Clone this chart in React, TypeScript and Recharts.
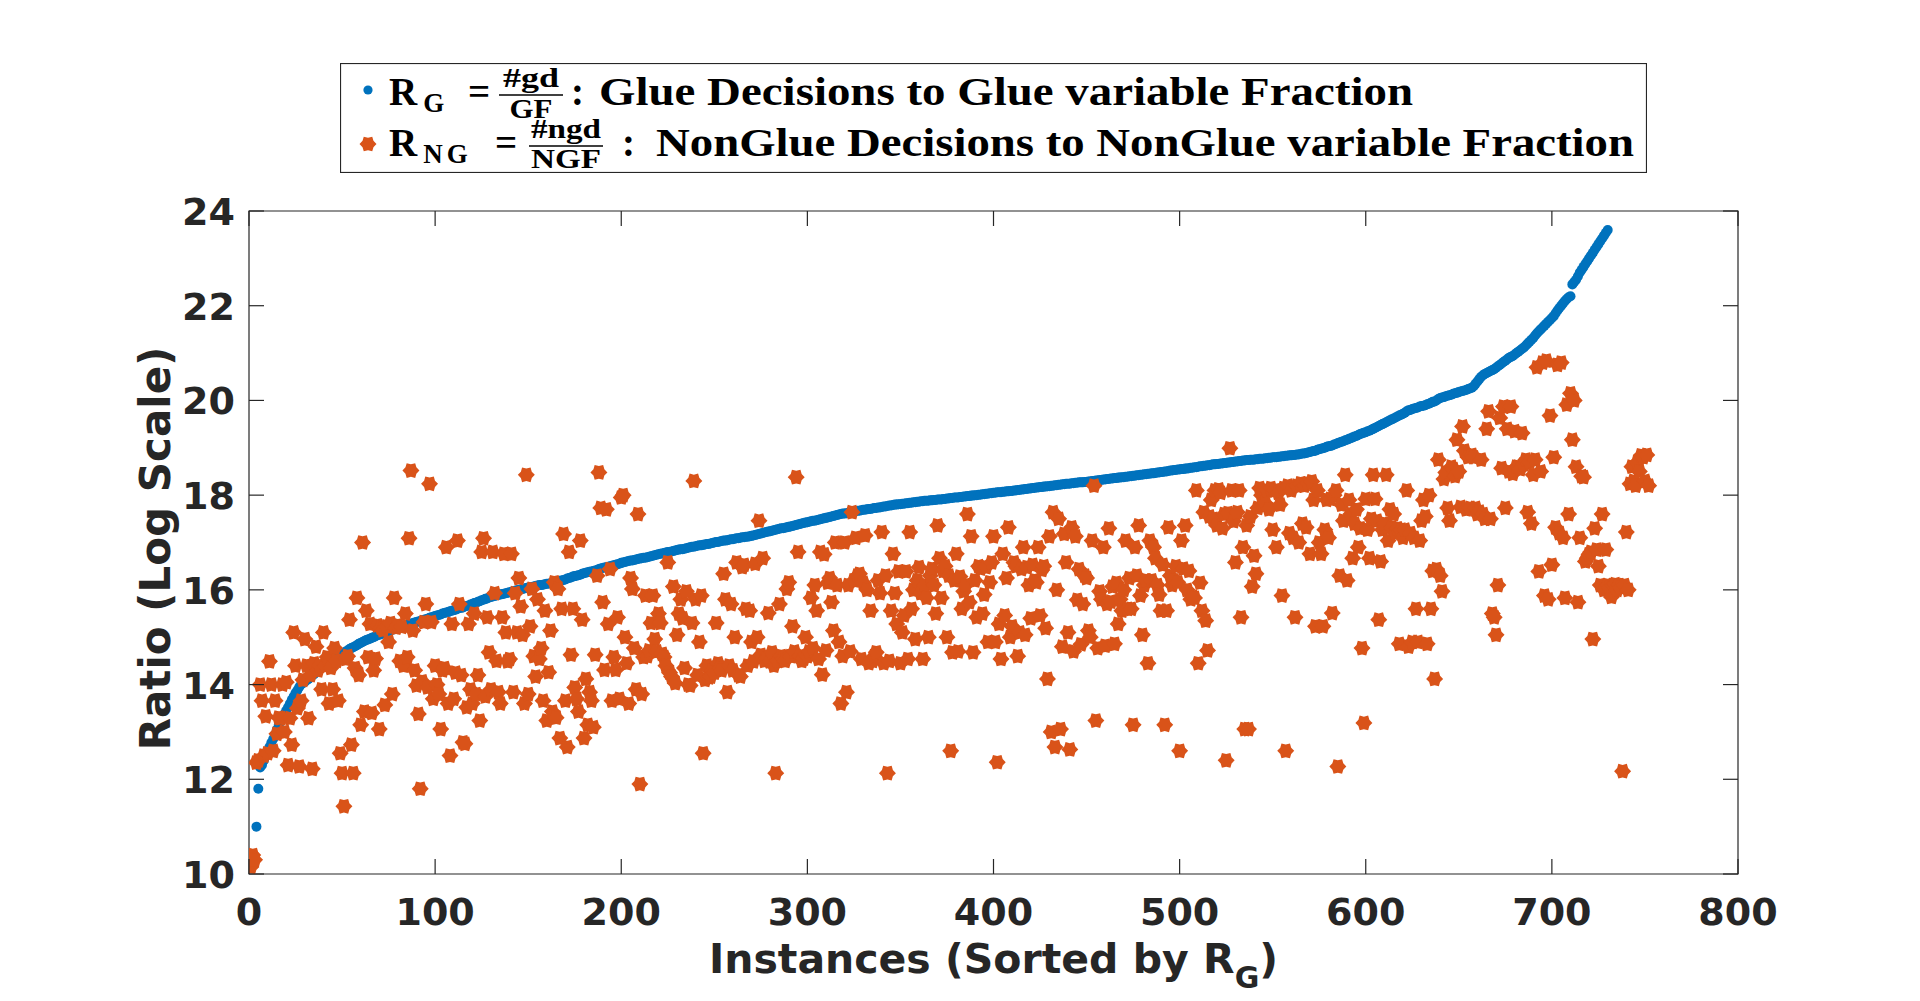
import { ScatterChart, Scatter, XAxis, YAxis, ReferenceArea, Legend } from "recharts"

// Instances sorted by R_G; the glue ratio starts at instance 4 (the first three sit below the axis floor).
const RG_FIRST_INSTANCE = 4
const rgRatio = [
  11.0, 11.8, 12.25, 12.3, 12.4, 12.5, 12.6,
  12.68, 12.77, 12.85, 12.95, 13.05, 13.15, 13.22, 13.3, 13.38, 13.45,
  13.52, 13.6, 13.68, 13.75, 13.82, 13.88, 13.95, 14.0, 14.03, 14.06,
  14.09, 14.12, 14.15, 14.19, 14.22, 14.26, 14.29, 14.33, 14.36, 14.4,
  14.42, 14.45, 14.47, 14.5, 14.52, 14.55, 14.57, 14.6, 14.62, 14.65,
  14.67, 14.7, 14.72, 14.75, 14.77, 14.79, 14.81, 14.83, 14.86, 14.88,
  14.9, 14.92, 14.94, 14.95, 14.97, 14.99, 15.0, 15.02, 15.04, 15.05,
  15.07, 15.08, 15.1, 15.11, 15.13, 15.14, 15.16, 15.17, 15.19, 15.2,
  15.21, 15.22, 15.24, 15.25, 15.26, 15.27, 15.28, 15.3, 15.31, 15.32,
  15.33, 15.34, 15.36, 15.37, 15.38, 15.39, 15.41, 15.42, 15.43, 15.45,
  15.46, 15.47, 15.48, 15.5, 15.51, 15.52, 15.53, 15.55, 15.56, 15.57,
  15.58, 15.6, 15.61, 15.62, 15.63, 15.65, 15.66, 15.67, 15.69, 15.7,
  15.72, 15.73, 15.75, 15.76, 15.78, 15.79, 15.81, 15.82, 15.84, 15.85,
  15.86, 15.87, 15.88, 15.89, 15.9, 15.91, 15.92, 15.93, 15.94, 15.95,
  15.96, 15.97, 15.98, 15.99, 16.0, 16.01, 16.02, 16.03, 16.04, 16.05,
  16.06, 16.06, 16.07, 16.08, 16.09, 16.1, 16.1, 16.11, 16.12, 16.13,
  16.13, 16.14, 16.15, 16.15, 16.16, 16.17, 16.19, 16.2, 16.21, 16.22,
  16.24, 16.25, 16.26, 16.28, 16.29, 16.3, 16.31, 16.32, 16.34, 16.35,
  16.36, 16.37, 16.38, 16.39, 16.4, 16.41, 16.42, 16.44, 16.45, 16.46,
  16.47, 16.48, 16.49, 16.5, 16.51, 16.52, 16.53, 16.54, 16.55, 16.57,
  16.58, 16.59, 16.6, 16.61, 16.62, 16.62, 16.63, 16.64, 16.65, 16.66,
  16.67, 16.68, 16.68, 16.69, 16.7, 16.71, 16.72, 16.73, 16.74, 16.75,
  16.76, 16.77, 16.78, 16.79, 16.8, 16.8, 16.81, 16.82, 16.83, 16.84,
  16.85, 16.86, 16.86, 16.87, 16.88, 16.89, 16.9, 16.91, 16.91, 16.92,
  16.93, 16.94, 16.94, 16.95, 16.96, 16.97, 16.97, 16.98, 16.99, 17.0,
  17.01, 17.01, 17.02, 17.03, 17.04, 17.04, 17.05, 17.06, 17.07, 17.07,
  17.08, 17.09, 17.09, 17.1, 17.11, 17.11, 17.12, 17.12, 17.13, 17.14,
  17.15, 17.16, 17.17, 17.18, 17.19, 17.2, 17.21, 17.22, 17.23, 17.24,
  17.25, 17.26, 17.27, 17.28, 17.29, 17.3, 17.3, 17.31, 17.32, 17.33,
  17.34, 17.35, 17.36, 17.37, 17.38, 17.39, 17.4, 17.41, 17.42, 17.43,
  17.44, 17.45, 17.46, 17.46, 17.47, 17.48, 17.49, 17.5, 17.51, 17.52,
  17.53, 17.54, 17.55, 17.56, 17.57, 17.58, 17.59, 17.6, 17.61, 17.61,
  17.62, 17.63, 17.64, 17.64, 17.65, 17.66, 17.67, 17.67, 17.68, 17.69,
  17.69, 17.7, 17.71, 17.71, 17.72, 17.73, 17.73, 17.74, 17.74, 17.75,
  17.76, 17.76, 17.77, 17.78, 17.78, 17.79, 17.8, 17.8, 17.81, 17.81,
  17.82, 17.82, 17.83, 17.83, 17.84, 17.84, 17.85, 17.85, 17.86, 17.86,
  17.87, 17.87, 17.88, 17.88, 17.88, 17.89, 17.89, 17.9, 17.9, 17.91,
  17.91, 17.91, 17.92, 17.92, 17.93, 17.93, 17.94, 17.94, 17.95, 17.95,
  17.95, 17.96, 17.96, 17.97, 17.97, 17.98, 17.98, 17.99, 17.99, 18.0,
  18.0, 18.01, 18.01, 18.02, 18.02, 18.03, 18.03, 18.04, 18.04, 18.05,
  18.05, 18.06, 18.06, 18.06, 18.07, 18.07, 18.08, 18.08, 18.09, 18.09,
  18.1, 18.1, 18.11, 18.11, 18.12, 18.12, 18.13, 18.13, 18.14, 18.14,
  18.15, 18.15, 18.16, 18.16, 18.17, 18.17, 18.18, 18.18, 18.19, 18.19,
  18.2, 18.2, 18.21, 18.21, 18.22, 18.22, 18.23, 18.23, 18.24, 18.24,
  18.24, 18.25, 18.25, 18.26, 18.26, 18.27, 18.27, 18.27, 18.28, 18.28,
  18.29, 18.29, 18.3, 18.3, 18.31, 18.31, 18.32, 18.32, 18.33, 18.33,
  18.34, 18.34, 18.35, 18.35, 18.36, 18.36, 18.37, 18.37, 18.38, 18.38,
  18.39, 18.39, 18.4, 18.4, 18.41, 18.41, 18.42, 18.42, 18.43, 18.43,
  18.44, 18.44, 18.45, 18.45, 18.46, 18.46, 18.47, 18.48, 18.48, 18.49,
  18.49, 18.5, 18.5, 18.51, 18.52, 18.52, 18.53, 18.53, 18.54, 18.54,
  18.55, 18.55, 18.56, 18.56, 18.57, 18.58, 18.58, 18.59, 18.59, 18.6,
  18.61, 18.61, 18.62, 18.62, 18.63, 18.63, 18.64, 18.65, 18.65, 18.66,
  18.66, 18.67, 18.67, 18.68, 18.68, 18.69, 18.69, 18.7, 18.7, 18.71,
  18.71, 18.72, 18.72, 18.73, 18.73, 18.74, 18.74, 18.75, 18.75, 18.75,
  18.76, 18.76, 18.77, 18.77, 18.77, 18.78, 18.78, 18.79, 18.79, 18.8,
  18.8, 18.8, 18.81, 18.81, 18.82, 18.82, 18.83, 18.83, 18.84, 18.84,
  18.85, 18.85, 18.86, 18.86, 18.87, 18.88, 18.88, 18.89, 18.9, 18.91,
  18.92, 18.93, 18.94, 18.96, 18.97, 18.98, 18.99, 19.0, 19.02, 19.03,
  19.04, 19.05, 19.07, 19.08, 19.1, 19.11, 19.13, 19.14, 19.16, 19.17,
  19.19, 19.2, 19.22, 19.24, 19.25, 19.27, 19.29, 19.3, 19.32, 19.33,
  19.35, 19.36, 19.38, 19.4, 19.42, 19.44, 19.46, 19.48, 19.5, 19.52,
  19.54, 19.56, 19.58, 19.6, 19.62, 19.64, 19.66, 19.68, 19.7, 19.72,
  19.74, 19.77, 19.79, 19.8, 19.82, 19.83, 19.84, 19.85, 19.87, 19.88,
  19.89, 19.9, 19.92, 19.93, 19.95, 19.97, 19.98, 20.0, 20.03, 20.05,
  20.06, 20.07, 20.09, 20.1, 20.11, 20.12, 20.14, 20.15, 20.16, 20.18,
  20.19, 20.2, 20.21, 20.22, 20.24, 20.25, 20.27, 20.3, 20.35, 20.4,
  20.45, 20.5, 20.53, 20.56, 20.58, 20.6, 20.62, 20.64, 20.66, 20.69,
  20.72, 20.75, 20.78, 20.81, 20.84, 20.87, 20.9, 20.92, 20.94, 20.97,
  21.0, 21.03, 21.06, 21.09, 21.12, 21.16, 21.2, 21.24, 21.28, 21.32,
  21.37, 21.42, 21.46, 21.5, 21.54, 21.58, 21.62, 21.66, 21.7, 21.74,
  21.78, 21.84, 21.9, 21.95, 22.0, 22.05, 22.1, 22.14, 22.18, 22.2,
  22.45, 22.5, 22.55, 22.62, 22.7, 22.76, 22.82, 22.88, 22.94, 23.0,
  23.06, 23.12, 23.18, 23.24, 23.3, 23.36, 23.42, 23.48, 23.54, 23.6,
]

// Non-glue ratio, one value per instance starting at instance 1.
const rngRatio = [
  10.15, 10.4, 10.3, 12.35, 12.4, 14.0, 13.66, 12.5, 13.33, 12.55,
  14.49, 14.0, 12.6, 13.66, 12.96, 13.3, 13.29, 14.0, 13.0, 14.05,
  12.3, 13.29, 12.73, 15.1, 14.4, 13.5, 12.27, 13.66, 14.1, 14.96,
  14.4, 13.29, 14.2, 12.22, 14.45, 14.8, 14.3, 14.4, 13.9, 15.1,
  14.4, 14.58, 13.6, 14.35, 13.9, 14.77, 14.5, 13.66, 12.55, 12.13,
  11.43, 14.54, 14.6, 15.37, 12.73, 12.13, 14.35, 15.83, 14.2, 13.15,
  17.0, 13.43, 15.56, 14.58, 15.28, 13.4, 14.3, 14.55, 15.25, 13.06,
  15.2, 15.15, 13.57, 15.23, 14.9, 15.3, 13.8, 15.83, 15.2, 15.25,
  14.5, 15.22, 14.4, 15.5, 14.58, 17.09, 18.52, 15.14, 14.3, 13.98,
  13.38, 11.8, 14.07, 15.32, 15.7, 13.94, 18.24, 15.32, 13.7, 14.4,
  14.0, 13.8, 13.06, 14.3, 14.35, 16.9, 13.6, 12.5, 15.28, 13.7,
  14.25, 17.04, 15.7, 14.2, 12.78, 12.75, 13.52, 15.28, 13.9, 13.6,
  15.5, 13.8, 14.2, 13.24, 16.8, 17.09, 13.75, 15.42, 14.68, 13.9,
  16.8, 15.93, 14.5, 13.84, 13.6, 15.42, 16.76, 15.1, 14.49, 14.54,
  16.76, 13.84, 15.93, 15.1, 16.25, 15.65, 15.05, 13.6, 18.43, 13.8,
  15.23, 16.02, 14.6, 14.17, 15.8, 14.54, 14.77, 13.66, 15.56, 13.24,
  14.26, 15.14, 13.43, 16.16, 13.3, 16.02, 12.87, 15.6, 17.18, 13.66,
  12.68, 16.8, 14.63, 15.6, 13.94, 13.7, 13.43, 17.04, 15.37, 12.87,
  14.12, 13.15, 13.84, 13.66, 13.1, 14.63, 16.3, 18.48, 17.73, 15.74,
  14.31, 17.7, 15.28, 16.44, 13.66, 14.58, 14.31, 15.42, 13.7, 17.95,
  18.0, 15.0, 14.45, 13.6, 16.25, 16.02, 14.77, 13.9, 17.6, 11.9,
  13.8, 14.58, 15.88, 14.6, 14.72, 15.3, 15.88, 14.96, 14.7, 15.5,
  15.3, 14.65, 14.58, 14.4, 16.58, 14.25, 14.17, 16.07, 14.03, 15.05,
  15.5, 15.8, 15.4, 14.35, 15.97, 14.0, 13.98, 15.3, 18.3, 15.8,
  14.2, 14.9, 15.88, 12.55, 14.1, 14.4, 14.15, 14.17, 14.3, 14.25,
  15.3, 14.45, 14.35, 14.3, 16.34, 15.8, 13.84, 14.4, 15.7, 14.3,
  15.0, 16.58, 14.2, 14.17, 16.48, 16.53, 15.6, 14.4, 15.56, 14.9,
  14.49, 16.55, 15.0, 17.46, 14.63, 16.67, 14.5, 14.55, 15.51, 14.49,
  14.68, 14.4, 12.13, 14.5, 15.7, 14.6, 14.55, 14.5, 16.02, 16.16,
  14.6, 15.23, 14.7, 18.38, 16.8, 14.6, 14.5, 14.55, 15.0, 14.6,
  14.7, 15.83, 14.77, 16.1, 15.56, 14.54, 16.8, 14.21, 16.75, 14.72,
  16.15, 16.25, 15.74, 15.14, 17.0, 16.1, 14.9, 13.6, 14.6, 17.0,
  13.84, 16.1, 14.7, 17.64, 16.2, 17.1, 16.3, 16.34, 14.54, 16.15,
  17.15, 16.0, 14.45, 15.56, 14.5, 14.6, 14.68, 16.2, 15.93, 17.22,
  14.45, 16.3, 12.13, 14.5, 15.56, 16.76, 15.93, 15.28, 16.39, 14.45,
  15.1, 15.46, 16.39, 14.54, 17.22, 15.6, 16.0, 14.96, 16.2, 16.48,
  15.93, 14.54, 16.1, 15.83, 15.0, 16.3, 16.45, 16.1, 15.5, 17.36,
  16.67, 15.83, 16.4, 16.5, 15.0, 16.3, 12.6, 14.68, 16.2, 16.76,
  14.7, 16.28, 15.6, 15.97, 16.1, 17.6, 15.74, 17.13, 14.68, 16.2,
  15.42, 16.5, 16.45, 15.5, 15.9, 16.48, 14.9, 16.16, 16.58, 17.13,
  14.9, 12.36, 15.28, 14.54, 16.76, 15.46, 16.25, 17.32, 15.0, 15.23,
  16.58, 16.5, 14.6, 15.1, 16.44, 16.9, 15.05, 16.48, 16.1, 15.4,
  16.53, 16.2, 16.16, 16.9, 15.46, 16.42, 16.5, 15.19, 14.12, 17.13,
  13.0, 17.64, 12.68, 16.0, 17.5, 13.06, 14.8, 17.18, 16.58, 15.1,
  12.63, 17.32, 14.7, 17.13, 15.79, 16.44, 14.85, 15.7, 16.3, 16.25,
  15.14, 15.0, 17.04, 18.2, 13.24, 14.77, 15.97, 15.8, 16.9, 14.82,
  15.7, 17.3, 15.75, 16.07, 14.86, 16.15, 15.28, 15.8, 15.56, 16.0,
  17.04, 15.6, 16.25, 15.6, 13.15, 16.9, 16.3, 17.36, 15.88, 15.05,
  16.1, 16.2, 14.45, 17.04, 16.2, 16.9, 16.67, 16.1, 15.9, 15.56,
  16.53, 13.15, 15.56, 17.32, 16.3, 16.1, 16.2, 16.5, 16.16, 12.6,
  17.04, 16.45, 17.36, 16.0, 16.4, 15.8, 15.85, 15.83, 18.1, 14.45,
  16.15, 15.56, 17.64, 15.35, 14.72, 17.55, 17.9, 17.5, 18.1, 17.36,
  18.12, 18.05, 17.3, 17.6, 12.4, 17.62, 18.99, 18.1, 17.45, 16.58,
  17.64, 18.1, 15.42, 16.9, 13.06, 17.36, 13.06, 17.55, 16.07, 16.72,
  16.34, 17.73, 18.15, 18.0, 17.8, 17.83, 18.1, 17.7, 18.15, 17.27,
  18.1, 16.9, 18.05, 17.8, 15.88, 18.15, 12.6, 18.2, 17.2, 18.1,
  17.1, 15.42, 18.2, 17.0, 18.25, 17.4, 18.2, 17.32, 18.25, 16.76,
  18.29, 17.9, 15.23, 18.1, 17.0, 16.76, 15.23, 17.27, 17.9, 17.1,
  17.92, 15.51, 18.0, 18.1, 12.27, 16.3, 17.8, 17.46, 18.43, 16.2,
  17.9, 17.6, 16.67, 17.4, 17.7, 16.9, 17.3, 14.77, 13.19, 17.92,
  17.27, 16.67, 17.5, 18.43, 17.92, 17.46, 15.37, 16.6, 17.27, 17.4,
  18.43, 17.04, 17.7, 17.32, 17.6, 17.2, 17.3, 14.86, 17.27, 17.1,
  17.27, 18.1, 14.8, 17.2, 14.9, 17.1, 15.6, 14.9, 17.04, 17.46,
  17.9, 17.55, 14.86, 18.0, 15.6, 16.4, 14.12, 16.44, 18.75, 16.3,
  15.97, 18.34, 18.48, 17.73, 17.46, 18.6, 18.55, 18.4, 19.17, 18.5,
  17.75, 19.45, 18.94, 17.7, 18.8, 17.73, 18.85, 18.8, 17.73, 17.6,
  17.65, 18.75, 17.6, 17.5, 19.4, 19.77, 17.5, 15.5, 15.42, 15.05,
  16.1, 19.63, 18.57, 19.87, 17.73, 19.4, 18.5, 19.87, 18.45, 19.35,
  18.6, 18.6, 18.55, 19.31, 18.65, 18.75, 17.64, 18.7, 17.4, 18.43,
  18.75, 20.7, 16.39, 18.5, 20.8, 15.88, 20.84, 15.8, 19.68, 16.53,
  18.8, 17.32, 20.75, 17.2, 20.8, 17.1, 15.83, 19.91, 17.6, 20.15,
  19.17, 20.0, 18.6, 15.74, 17.1, 18.4, 18.38, 16.6, 16.67, 16.75,
  16.8, 14.96, 17.3, 16.85, 16.5, 16.1, 17.6, 16.0, 16.85, 16.1,
  16.05, 15.85, 16.1, 16.12, 16.0, 16.1, 16.05, 12.17, 16.1, 17.22,
  16.0, 18.24, 18.6, 18.3, 18.2, 18.7, 18.5, 18.84, 18.8, 18.3,
  18.85, 18.2,
]

const xTicks = [0, 100, 200, 300, 400, 500, 600, 700, 800]
const yTicks = [10, 12, 14, 16, 18, 20, 22, 24]

const rgPoints = rgRatio.map((y, i) => ({ x: i + RG_FIRST_INSTANCE, y }))
const rngPoints = rngRatio.map((y, i) => ({ x: i + 1, y }))

const WIDTH = 1920
const HEIGHT = 1001
const PLOT = { left: 249, right: 1738, top: 211, bottom: 874 }
const Y_AXIS_W = 120
const X_AXIS_H = 110
const TICK_LEN = 15
const AXIS_COLOR = "#262626"
const BLUE = "#0072BD"
const ORANGE = "#D95319"
const SANS = "'DejaVu Sans', sans-serif"
const SERIF = "'Liberation Serif', serif"

if (typeof document !== "undefined") {
  document.body.style.margin = "0"
  document.body.style.overflow = "hidden"
}

function hexagramPath(cx: number, cy: number, r: number) {
  const inner = r * 0.74
  let d = ""
  for (let k = 0; k < 12; k++) {
    const rad = k % 2 === 0 ? r : inner
    const a = (k * Math.PI) / 6
    d += (k === 0 ? "M" : "L") + (cx + rad * Math.cos(a)).toFixed(2) + "," + (cy - rad * Math.sin(a)).toFixed(2)
  }
  return d + "Z"
}

const Dot = (props: any) => <circle cx={props.cx} cy={props.cy} r={5} fill={BLUE} />
const Hexagram = (props: any) => <path d={hexagramPath(props.cx, props.cy, 8.5)} fill={ORANGE} />

function XTick({ x, y, payload }: any) {
  return (
    <g>
      <line x1={x} y1={y} x2={x} y2={y - TICK_LEN} stroke={AXIS_COLOR} strokeWidth={1.2} />
      <line x1={x} y1={PLOT.top} x2={x} y2={PLOT.top + TICK_LEN} stroke={AXIS_COLOR} strokeWidth={1.2} />
      <text x={x} y={y + 51} textAnchor="middle" fontFamily={SANS} fontWeight="bold" fontSize={38} fill={AXIS_COLOR}>
        {payload.value}
      </text>
    </g>
  )
}

function YTick({ x, y, payload }: any) {
  return (
    <g>
      <line x1={x} y1={y} x2={x + TICK_LEN} y2={y} stroke={AXIS_COLOR} strokeWidth={1.2} />
      <line x1={PLOT.right} y1={y} x2={PLOT.right - TICK_LEN} y2={y} stroke={AXIS_COLOR} strokeWidth={1.2} />
      <text x={x - 14} y={y + 14} textAnchor="end" fontFamily={SANS} fontWeight="bold" fontSize={38} fill={AXIS_COLOR}>
        {payload.value}
      </text>
    </g>
  )
}

function XTitle({ viewBox }: any) {
  const cx = viewBox.x + viewBox.width / 2
  return (
    <text x={cx} y={viewBox.y + 99} textAnchor="middle" fontFamily={SANS} fontWeight="bold" fontSize={41} fill={AXIS_COLOR}>
      Instances (Sorted by R
      <tspan fontSize={30} dy={15}>G</tspan>
      <tspan dy={-15}>)</tspan>
    </text>
  )
}

function YTitle({ viewBox }: any) {
  const cy = viewBox.y + viewBox.height / 2 + 6
  const bx = viewBox.x + viewBox.width - 79
  return (
    <text
      x={bx}
      y={cy}
      transform={`rotate(-90, ${bx}, ${cy})`}
      textAnchor="middle"
      fontFamily={SANS}
      fontWeight="bold"
      fontSize={42}
      fill={AXIS_COLOR}
    >
      Ratio (Log Scale)
    </text>
  )
}

// Boxed legend with the two ratio definitions typeset as fractions
function LegendBox() {
  const t = { fontFamily: SERIF, fontWeight: "bold" as const, fill: "#000" }
  return (
    <svg width={1307} height={110} style={{ display: "block" }}>
      <rect x={0.5} y={0.5} width={1306} height={109} fill="#fff" stroke={AXIS_COLOR} strokeWidth={1.2} />
      <circle cx={28} cy={27} r={4.6} fill={BLUE} />
      <path d={hexagramPath(28, 81, 8.5)} fill={ORANGE} />

      <text x={49} y={42} fontSize={39} {...t}>
        R
        <tspan dx={6} dy={7} fontSize={27}>G</tspan>
      </text>
      <text x={139} y={42} fontSize={39} textAnchor="middle" {...t}>=</text>
      <text x={191} y={24} fontSize={27} textAnchor="middle" textLength={56} lengthAdjust="spacingAndGlyphs" {...t}>#gd</text>
      <line x1={159} y1={32} x2={223} y2={32} stroke="#000" strokeWidth={1.6} />
      <text x={191} y={55} fontSize={27} textAnchor="middle" textLength={43} lengthAdjust="spacingAndGlyphs" {...t}>GF</text>
      <text x={231} y={42} fontSize={39} {...t}>:</text>
      <text x={259} y={42} fontSize={39} textLength={814} lengthAdjust="spacingAndGlyphs" {...t}>
        Glue Decisions to Glue variable Fraction
      </text>

      <text x={49} y={93} fontSize={39} {...t}>
        R
        <tspan dx={6} dy={7} fontSize={27} letterSpacing={4}>NG</tspan>
      </text>
      <text x={166} y={93} fontSize={39} textAnchor="middle" {...t}>=</text>
      <text x={226} y={75} fontSize={27} textAnchor="middle" textLength={70} lengthAdjust="spacingAndGlyphs" {...t}>#ngd</text>
      <line x1={189} y1={83} x2={263} y2={83} stroke="#000" strokeWidth={1.6} />
      <text x={226} y={105} fontSize={27} textAnchor="middle" textLength={70} lengthAdjust="spacingAndGlyphs" {...t}>NGF</text>
      <text x={282} y={93} fontSize={39} {...t}>:</text>
      <text x={316} y={93} fontSize={39} textLength={978} lengthAdjust="spacingAndGlyphs" {...t}>
        NonGlue Decisions to NonGlue variable Fraction
      </text>
    </svg>
  )
}

export default function App() {
  return (
    <div style={{ width: WIDTH, height: HEIGHT, background: "#fff" }}>
      <ScatterChart
        width={WIDTH}
        height={HEIGHT}
        margin={{
          top: PLOT.top,
          right: WIDTH - PLOT.right,
          bottom: HEIGHT - PLOT.bottom - X_AXIS_H,
          left: PLOT.left - Y_AXIS_W,
        }}
      >
        <XAxis
          type="number"
          dataKey="x"
          domain={[0, 800]}
          ticks={xTicks}
          interval={0}
          height={X_AXIS_H}
          tickSize={0}
          tickMargin={0}
          axisLine={false}
          tickLine={false}
          tick={<XTick />}
          label={<XTitle />}
          allowDataOverflow
        />
        <YAxis
          type="number"
          dataKey="y"
          domain={[10, 24]}
          ticks={yTicks}
          interval={0}
          width={Y_AXIS_W}
          tickSize={0}
          tickMargin={0}
          axisLine={false}
          tickLine={false}
          tick={<YTick />}
          label={<YTitle />}
          allowDataOverflow
        />
        <ReferenceArea x1={0} x2={800} y1={10} y2={24} fill="none" stroke={AXIS_COLOR} strokeWidth={1.2} ifOverflow="visible" />
        <Scatter name="R_G" data={rgPoints} fill={BLUE} shape={Dot} isAnimationActive={false} />
        <Scatter name="R_NG" data={rngPoints} fill={ORANGE} shape={Hexagram} isAnimationActive={false} />
        <Legend
          layout="vertical"
          align="center"
          verticalAlign="middle"
          wrapperStyle={{ left: 340, top: 63, width: 1307, height: 110 }}
          content={() => <LegendBox />}
        />
      </ScatterChart>
    </div>
  )
}
